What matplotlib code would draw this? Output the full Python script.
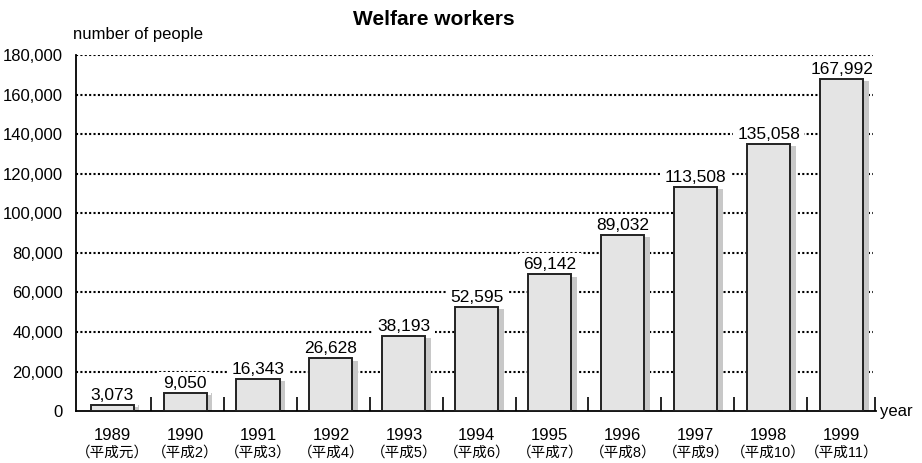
import numpy as np
import matplotlib
matplotlib.use("Agg")
import matplotlib.pyplot as plt
import matplotlib.transforms as mtrans

plt.rcParams['font.family'] = ['Liberation Sans', 'Noto Sans CJK JP']

years = ["1989", "1990", "1991", "1992", "1993", "1994", "1995", "1996", "1997", "1998", "1999"]
eras = ["（平成元）", "（平成2）", "（平成3）", "（平成4）", "（平成5）", "（平成6）",
        "（平成7）", "（平成8）", "（平成9）", "（平成10）", "（平成11）"]
workers = [3073, 9050, 16343, 26628, 38193, 52595, 69142, 89032, 113508, 135058, 167992]
yticks = [0, 20000, 40000, 60000, 80000, 100000, 120000, 140000, 160000, 180000]

fig = plt.figure(figsize=(9.22, 4.63), dpi=100)
ax = fig.add_axes([0.082, 0.112, 0.868, 0.769])

x = np.arange(len(years))
w = 0.59

# dotted grid lines
for v in yticks[1:]:
    ax.plot([-0.5, 10.43], [v, v], color="black", lw=1.5,
            linestyle=(0, (1, 1.1)), zorder=1)

# shadows, then bars
ax.bar(x + 0.08, workers, width=w, color="#c8c8c8", edgecolor="none", zorder=2)
ax.bar(x, workers, width=w, facecolor="#e4e4e4", edgecolor="#222222",
       linewidth=1.4, zorder=3)

# value labels: white box cuts the grid but sits under the bars
for xi, v in zip(x, workers):
    ax.text(xi, v + 1000, f"{v:,}", ha="center", va="bottom", fontsize=12.5,
            zorder=2.5, bbox=dict(facecolor="white", edgecolor="none", pad=3))

ax.set_xlim(-0.5, 10.47)
ax.set_ylim(0, 180000)
ax.set_yticks(yticks)
ax.set_yticklabels([f"{v:,}" for v in yticks], fontsize=12)
ax.tick_params(axis="y", length=0, pad=9)

ax.set_xticks(x)
ax.set_xticklabels(years, fontsize=12)
ax.tick_params(axis="x", which="major", length=0, pad=12)
ax.set_xticks(list(x[:-1] + 0.53) + [10.46], minor=True)
ax.tick_params(axis="x", which="minor", direction="in", length=10, width=1.2)

trans = mtrans.blended_transform_factory(ax.transData, ax.transAxes)
for xi, e in zip(x, eras):
    ax.text(xi, -0.098, e, transform=trans, ha="center", va="top", fontsize=10.5)

for s in ["top", "right"]:
    ax.spines[s].set_visible(False)
ax.spines["left"].set_linewidth(1.3)
ax.spines["bottom"].set_linewidth(1.3)

ax.text(10.52, 0, "year", ha="left", va="center", fontsize=12, clip_on=False)
fig.text(0.079, 0.91, "number of people", ha="left", va="bottom", fontsize=12)
fig.text(0.47, 0.957, "Welfare workers", ha="center", va="center",
         fontsize=15, fontweight="bold")

fig.savefig("out.png", dpi=100)
